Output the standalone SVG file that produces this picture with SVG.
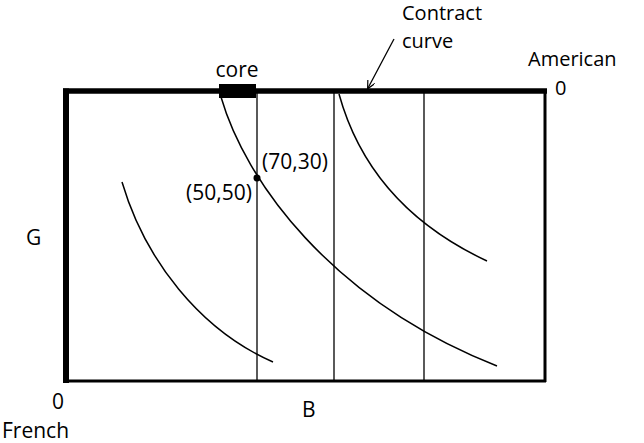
<svg xmlns="http://www.w3.org/2000/svg" width="644" height="443" viewBox="0 0 644 443">
<defs>
<style>
.t{font-family:"Open Sans",Lato,"Liberation Sans",sans-serif;font-size:21px;fill:#000}
.s{font-size:20px}
.c{fill:none;stroke:#000;stroke-width:1.5}
.v{stroke:#000;stroke-width:1.3}
</style>
<marker id="ah" viewBox="0 0 10 10" refX="9" refY="5" markerWidth="8" markerHeight="8" orient="auto" markerUnits="userSpaceOnUse">
<path d="M0,0 L10,5 L0,10" fill="none" stroke="#000" stroke-width="1.5"/>
</marker>
</defs>
<rect width="644" height="443" fill="#fff"/>
<g id="box">
<line x1="545" y1="90" x2="545" y2="382" stroke="#000" stroke-width="3"/>
<line x1="63" y1="381" x2="546" y2="381" stroke="#000" stroke-width="3"/>
<line x1="63" y1="91" x2="547" y2="91" stroke="#000" stroke-width="5.5"/>
<line x1="66" y1="88.5" x2="66" y2="383" stroke="#000" stroke-width="6"/>
</g>
<g id="core">
<rect x="219" y="84" width="37" height="14" fill="#000"/>
<text class="t" x="237" y="77" text-anchor="middle">core</text>
</g>
<g id="verticals">
<line class="v" x1="257" y1="93" x2="257" y2="380"/>
<line class="v" x1="334" y1="93" x2="334" y2="380"/>
<line class="v" x1="424" y1="93" x2="424" y2="380"/>
</g>
<g id="curves">
<path class="c" d="M221,97 C245,180 330,300 497,366"/>
<path class="c" d="M122,182 C145,260 200,330 273,362"/>
<path class="c" d="M339,94 C360,170 410,225 487,261"/>
</g>
<g id="point">
<circle cx="257" cy="178" r="3.5" fill="#000"/>
<text class="t" x="262" y="169">(70,30)</text>
<text class="t" x="186" y="200">(50,50)</text>
</g>
<g id="connectors">
<line x1="394" y1="39" x2="368" y2="88" stroke="#000" stroke-width="1.3" marker-end="url(#ah)"/>
</g>
<g id="labels">
<text class="t s" x="402" y="20">Contract</text>
<text class="t s" x="402" y="48">curve</text>
<text class="t s" x="528" y="66">American</text>
<text class="t s" x="555" y="95">0</text>
<text class="t" x="26" y="245">G</text>
<text class="t" x="52" y="409">0</text>
<text class="t" x="2" y="438">French</text>
<text class="t" x="302" y="417">B</text>
</g>
</svg>
